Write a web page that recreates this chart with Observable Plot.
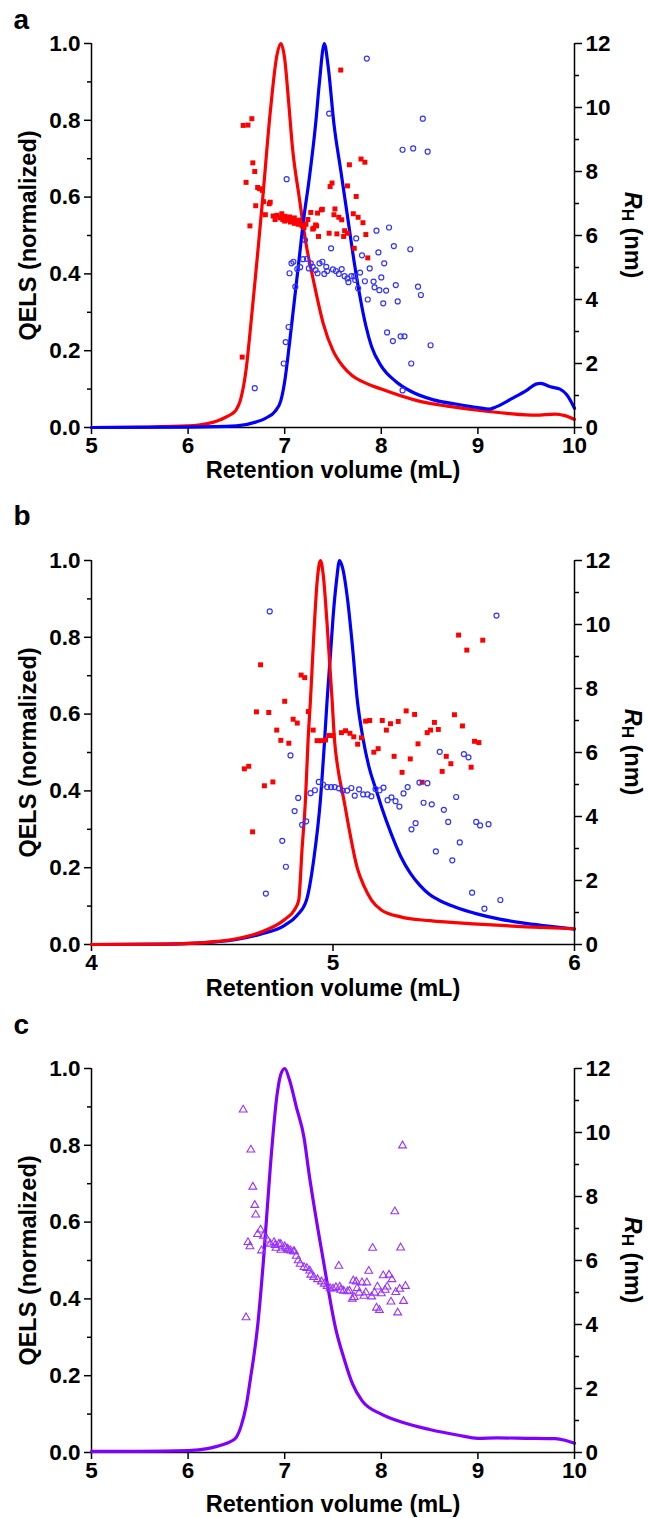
<!DOCTYPE html>
<html><head><meta charset="utf-8">
<script src="https://cdn.jsdelivr.net/npm/d3@7"></script>
<script src="https://cdn.jsdelivr.net/npm/@observablehq/plot@0.6"></script>
<style>
html,body{margin:0;padding:0;background:#fff;overflow:hidden;}
#root{position:relative;width:648px;height:1518px;overflow:hidden;font-family:"Liberation Sans",Arial,sans-serif;}
.panel{position:absolute;left:0;width:648px;}
.panel svg{position:absolute;left:0;top:0;}
</style></head><body><div id="root"></div>
<script>
// ---------- Panel a ----------
const aXTicks = [5, 6, 7, 8, 9, 10];
const aRedLine = [[5,0],[5.5,0.001],[6,0.004],[6.2,0.01],[6.3,0.017],[6.4,0.028],[6.45,0.035],[6.5,0.047],[6.54,0.07],[6.6,0.15],[6.65,0.27],[6.7,0.4],[6.73,0.48],[6.77,0.59],[6.85,0.82],[6.92,0.97],[6.96,1.0],[7.0,0.96],[7.04,0.85],[7.08,0.73],[7.15,0.6],[7.22,0.48],[7.3,0.38],[7.4,0.27],[7.5,0.2],[7.6,0.16],[7.7,0.135],[7.8,0.12],[8.0,0.1],[8.37,0.07],[8.7,0.055],[9.0,0.045],[9.3,0.037],[9.6,0.032],[9.8,0.035],[9.9,0.031],[10,0.021]];
const aBlueLine = [[5,0],[6,0.001],[6.5,0.004],[6.7,0.014],[6.8,0.024],[6.9,0.042],[6.96,0.07],[7.0,0.12],[7.05,0.22],[7.1,0.33],[7.15,0.44],[7.2,0.55],[7.25,0.64],[7.32,0.79],[7.36,0.9],[7.41,1.0],[7.45,0.94],[7.51,0.79],[7.58,0.67],[7.65,0.55],[7.72,0.43],[7.78,0.34],[7.84,0.265],[7.9,0.21],[8.0,0.16],[8.15,0.12],[8.3,0.095],[8.54,0.072],[8.8,0.06],[9.0,0.052],[9.12,0.048],[9.2,0.055],[9.35,0.075],[9.5,0.096],[9.6,0.113],[9.65,0.115],[9.75,0.106],[9.85,0.1],[9.92,0.085],[10,0.05]];
const aRedRh = [[7.58,11.17],[6.57,9.44],[6.62,9.45],[6.66,9.65],[6.67,8.27],[6.69,8.0],[6.60,7.66],[6.72,7.5],[6.74,7.46],[6.77,7.41],[6.78,7.06],[6.70,6.93],[6.84,6.99],[6.85,7.04],[6.64,6.30],[6.80,6.65],[6.88,6.61],[6.92,6.63],[6.97,6.68],[6.56,2.20],[6.95,6.55],[6.98,6.5],[7.0,6.45],[7.02,6.52],[7.04,6.48],[7.06,6.42],[7.08,6.5],[7.1,6.38],[7.12,6.45],[7.14,6.35],[7.16,6.4],[7.18,6.3],[7.2,6.25],[7.22,6.35],[7.0,6.6],[7.05,6.58],[6.9,6.5],[7.1,6.55],[7.15,6.48],[7.24,6.5],[7.47,7.53],[7.49,7.64],[7.67,8.21],[7.79,8.39],[7.83,8.29],[7.65,7.55],[7.74,7.22],[7.27,6.72],[7.34,6.70],[7.38,6.80],[7.39,6.82],[7.52,6.83],[7.51,6.65],[7.56,6.57],[7.59,6.49],[7.71,6.68],[7.76,6.57],[7.81,6.40],[7.32,6.33],[7.30,6.23],[7.46,6.07],[7.54,6.05],[7.62,6.15],[7.65,6.07],[7.84,6.03],[7.35,5.97],[7.61,5.97],[7.72,5.60],[7.86,5.30],[7.33,6.30],[7.29,6.20]];
const aBlueRh = [[7.85,11.53],[7.46,9.81],[7.02,7.76],[8.43,9.65],[8.22,8.68],[8.33,8.72],[8.48,8.62],[7.95,6.15],[8.08,6.25],[7.74,5.91],[8.30,5.57],[8.38,4.40],[8.41,4.14],[8.20,2.85],[8.24,2.85],[8.51,2.57],[8.13,5.67],[7.97,5.47],[7.80,5.38],[8.03,5.13],[7.48,5.60],[7.88,4.97],[8.00,4.69],[7.92,4.56],[7.93,4.38],[7.98,4.29],[8.05,4.28],[8.15,4.45],[7.86,4.00],[8.02,3.88],[8.17,3.94],[8.06,2.97],[8.12,2.70],[8.31,2.00],[8.22,1.16],[7.07,5.13],[7.09,5.18],[7.05,4.82],[7.13,4.95],[7.16,5.01],[7.19,5.26],[7.23,5.27],[7.25,4.97],[7.27,5.13],[7.29,5.02],[7.32,4.92],[7.34,4.82],[7.36,5.13],[7.39,5.18],[7.41,4.80],[7.43,5.02],[7.44,4.89],[7.50,4.94],[7.53,4.89],[7.56,4.80],[7.59,4.95],[7.62,4.73],[7.65,4.66],[7.66,4.54],[7.69,4.73],[7.72,4.73],[7.73,4.61],[7.76,4.35],[7.78,4.84],[7.83,4.57],[7.11,4.40],[7.21,5.86],[7.04,3.14],[7.01,2.67],[6.99,2.00],[6.69,1.23]];

// ---------- Panel b ----------
const bXTicks = [4, 5, 6];
const bRedLine = [[4,0],[4.3,0.001],[4.5,0.007],[4.6,0.015],[4.7,0.032],[4.8,0.065],[4.84,0.09],[4.858,0.115],[4.872,0.25],[4.886,0.377],[4.897,0.534],[4.907,0.64],[4.92,0.8],[4.935,0.95],[4.948,1.0],[4.96,0.96],[4.975,0.84],[4.996,0.64],[5.006,0.534],[5.02,0.46],[5.045,0.377],[5.07,0.29],[5.1,0.2],[5.13,0.15],[5.16,0.115],[5.2,0.09],[5.28,0.072],[5.4,0.062],[5.6,0.053],[5.8,0.046],[6.0,0.041]];
const bBlueLine = [[4,0],[4.3,0.001],[4.5,0.006],[4.6,0.013],[4.7,0.027],[4.8,0.05],[4.85,0.075],[4.89,0.115],[4.92,0.22],[4.948,0.377],[4.965,0.53],[4.976,0.64],[4.99,0.76],[5.0,0.85],[5.015,0.95],[5.027,1.0],[5.04,0.98],[5.06,0.9],[5.08,0.78],[5.1,0.64],[5.125,0.534],[5.15,0.46],[5.18,0.4],[5.2,0.36],[5.24,0.29],[5.28,0.23],[5.32,0.186],[5.36,0.154],[5.4,0.13],[5.45,0.112],[5.5,0.099],[5.6,0.079],[5.69,0.066],[5.8,0.055],[5.9,0.047],[6.0,0.04]];
const bRedRh = [[4.70,8.74],[4.868,8.42],[4.883,8.34],[4.80,7.60],[4.683,7.27],[4.734,7.25],[4.835,7.04],[4.852,6.92],[4.767,6.70],[4.898,7.28],[4.918,6.70],[5.135,6.98],[5.152,7.0],[5.204,7.0],[5.238,6.90],[5.27,6.97],[5.303,7.30],[5.338,7.19],[4.983,6.53],[5.0,6.53],[5.035,6.62],[5.052,6.68],[5.07,6.60],[5.086,6.49],[5.118,6.46],[5.39,6.62],[5.52,9.67],[5.554,9.20],[5.62,9.51],[5.503,7.18],[5.536,6.83],[5.42,6.94],[5.404,6.70],[5.436,6.72],[4.784,6.38],[4.817,6.29],[4.934,6.37],[4.952,6.37],[4.969,6.39],[5.102,6.26],[5.169,6.01],[5.187,6.12],[5.221,6.70],[5.253,5.88],[5.286,5.38],[5.32,5.80],[5.352,6.27],[4.633,5.49],[4.651,5.57],[4.716,4.96],[4.751,5.08],[4.667,3.52],[5.369,5.07],[5.469,5.88],[5.488,5.65],[5.452,5.41],[5.586,6.35],[5.604,6.31],[5.572,5.54]];
const bBlueRh = [[4.738,10.41],[5.677,10.28],[4.824,5.91],[4.856,4.58],[4.841,4.17],[4.872,3.74],[4.889,3.85],[4.79,3.24],[4.805,2.43],[4.722,1.59],[4.907,4.73],[4.925,4.82],[4.941,5.08],[4.959,5.00],[4.976,4.92],[4.992,4.92],[5.007,4.92],[5.024,4.88],[5.04,4.81],[5.059,4.81],[5.076,4.89],[5.09,4.65],[5.108,4.85],[5.125,4.69],[5.143,4.69],[5.159,4.63],[5.176,4.86],[5.193,4.82],[5.209,4.90],[5.226,4.51],[5.242,4.60],[5.259,4.48],[5.275,4.31],[5.292,4.72],[5.309,4.92],[5.325,3.60],[5.342,3.79],[5.358,5.06],[5.375,4.43],[5.391,5.04],[5.442,6.02],[5.542,5.95],[5.561,5.85],[5.51,4.61],[5.409,4.38],[5.459,4.21],[5.477,3.83],[5.593,3.83],[5.609,3.72],[5.644,3.76],[5.525,3.19],[5.426,2.91],[5.494,2.63],[5.576,1.62],[5.693,1.39],[5.627,1.12]];

// ---------- Panel c ----------
const cXTicks = [5, 6, 7, 8, 9, 10];
const cPurpleLine = [[5,0.003],[5.5,0.003],[6,0.005],[6.2,0.01],[6.3,0.016],[6.4,0.024],[6.45,0.03],[6.5,0.04],[6.55,0.07],[6.6,0.12],[6.65,0.2],[6.68,0.25],[6.72,0.33],[6.78,0.5],[6.85,0.74],[6.92,0.93],[6.96,0.985],[7.0,1.0],[7.05,0.97],[7.12,0.9],[7.2,0.82],[7.25,0.73],[7.4,0.5],[7.53,0.32],[7.62,0.24],[7.7,0.18],[7.8,0.135],[8.0,0.1],[8.2,0.08],[8.5,0.06],[8.8,0.045],[9.0,0.037],[9.2,0.038],[9.5,0.037],[9.8,0.036],[9.9,0.032],[10,0.024]];
const cPurpleRh = [[6.57,10.71],[6.65,9.46],[6.67,8.30],[6.69,7.73],[6.70,7.43],[8.22,9.59],[8.14,7.53],[7.91,6.39],[8.20,6.40],[6.75,6.96],[6.72,6.82],[6.78,6.77],[6.62,6.57],[6.64,6.44],[6.76,6.31],[6.60,4.22],[7.56,5.83],[7.87,5.67],[6.82,6.65],[6.85,6.52],[6.90,6.48],[6.94,6.52],[6.96,6.51],[7.00,6.44],[7.03,6.36],[7.06,6.31],[7.09,6.28],[6.89,6.57],[6.91,6.39],[6.96,6.33],[7.01,6.39],[7.04,6.33],[7.10,6.28],[7.12,6.14],[7.14,6.00],[7.16,5.89],[7.20,5.79],[7.23,5.76],[7.26,5.68],[7.27,5.55],[7.30,5.48],[7.34,5.41],[7.38,5.34],[7.41,5.27],[7.44,5.20],[7.47,5.13],[7.50,5.12],[7.53,5.16],[7.57,5.18],[7.58,5.08],[7.61,5.05],[7.65,5.03],[7.67,5.05],[7.71,5.37],[7.74,5.34],[7.80,5.31],[7.85,5.31],[7.75,5.13],[7.77,4.99],[7.72,4.85],[7.70,4.80],[7.82,4.89],[7.84,5.00],[7.90,4.87],[7.93,4.99],[7.96,5.18],[8.00,4.97],[8.02,5.53],[8.04,5.08],[8.06,5.18],[8.08,5.55],[8.11,5.41],[8.15,5.01],[8.19,5.11],[8.25,5.20],[8.23,4.73],[8.10,4.71],[7.95,4.52],[7.98,4.45],[8.17,4.37]];

// ---------- labels ----------
const xTitle = "Retention volume (mL)";
const yLeftTitle = "QELS (normalized)";
const yLeftTicks = [0, 0.2, 0.4, 0.6, 0.8, 1.0];
const yLeftMinor = [0.1, 0.3, 0.5, 0.7, 0.9];
const yRightTicks = [0, 2, 4, 6, 8, 10, 12];
const yRightMinor = [1, 3, 5, 7, 9, 11];

const FONT = '"Liberation Sans", Arial, sans-serif';
const W = 648, ML = 91, MR = 74, MT = 60, PH = 384, MB = 84;
const H = MT + PH + MB;
const TICKFS = 22.5, TITLEFS = 23.5;

function panel({plotTop, letter, letterDy, titleDy, xDomain, xTicks, lines, dots}) {
  const root = document.getElementById("root");
  const div = document.createElement("div");
  div.className = "panel";
  div.style.top = (plotTop - MT) + "px";
  div.style.height = H + "px";
  root.appendChild(div);
  const style = {fontFamily: FONT, fontSize: TICKFS + "px", fontWeight: "bold", color: "black", background: "transparent", overflow: "visible"};
  const main = Plot.plot({
    width: W, height: H, marginLeft: ML, marginRight: MR, marginTop: MT, marginBottom: MB,
    style,
    x: {domain: xDomain},
    y: {domain: [0, 1]},
    marks: [
      Plot.axisY({ticks: yLeftTicks, tickFormat: d3.format(".1f"), tickSize: 7, tickPadding: 4, strokeWidth: 1.5, label: null, fontSize: TICKFS, fontWeight: "bold"}),
      Plot.axisY({ticks: yLeftMinor, tickFormat: () => "", tickSize: 4, strokeWidth: 1.5, label: null}),
      Plot.axisX({ticks: xTicks, tickFormat: d => String(d), tickSize: 7, tickPadding: 3, strokeWidth: 1.5, label: null, fontSize: TICKFS, fontWeight: "bold"}),
      Plot.ruleX([xDomain[0]], {stroke: "black", strokeWidth: 1.5}),
      Plot.ruleY([0], {stroke: "black", strokeWidth: 1.5}),
      ...lines.map(l => Plot.line(l.data, {x: d => d[0], y: d => d[1], stroke: l.color, strokeWidth: 3.2, curve: "monotone-x"})),
      Plot.text([xTitle], {text: d => d, frameAnchor: "bottom", dy: titleDy, textAnchor: "middle", lineAnchor: "middle", fontSize: TITLEFS, fontWeight: "bold"}),
      Plot.text([yLeftTitle], {text: d => d, frameAnchor: "left", dx: -63, rotate: -90, textAnchor: "middle", lineAnchor: "middle", fontSize: TITLEFS, fontWeight: "bold"}),
      Plot.text([letter], {text: d => d, frameAnchor: "top-left", dx: -78, dy: letterDy, textAnchor: "start", lineAnchor: "middle", fontSize: 28, fontWeight: "bold"})
    ]
  });
  const over = Plot.plot({
    width: W, height: H, marginLeft: ML, marginRight: MR, marginTop: MT, marginBottom: MB,
    style,
    x: {domain: xDomain, axis: null},
    y: {domain: [0, 12]},
    marks: [
      Plot.axisY({anchor: "right", ticks: yRightTicks, tickFormat: d => String(d), tickSize: 7, tickPadding: 4, strokeWidth: 1.5, label: null, fontSize: TICKFS, fontWeight: "bold"}),
      Plot.axisY({anchor: "right", ticks: yRightMinor, tickFormat: () => "", tickSize: 4, strokeWidth: 1.5, label: null}),
      Plot.ruleX([xDomain[1]], {stroke: "black", strokeWidth: 1.5}),
      ...dots.map(s => Plot.dot(s.data, {x: d => d[0], y: d => d[1], symbol: s.symbol, r: s.r, fill: s.fill, stroke: s.stroke, strokeWidth: s.sw}))
    ]
  });
  div.appendChild(main);
  div.appendChild(over);
  const t = d3.select(over).append("text")
    .attr("transform", `translate(${W - MR + 57},${MT + PH / 2}) rotate(90)`)
    .attr("text-anchor", "middle").attr("dominant-baseline", "middle")
    .attr("font-family", FONT).attr("font-size", TITLEFS).attr("font-weight", "bold").attr("fill", "black");
  t.append("tspan").attr("font-style", "italic").text("R");
  t.append("tspan").attr("font-size", 17).attr("dy", 5).text("H");
  t.append("tspan").attr("dy", -5).text(" (nm)");
}

panel({plotTop: 43, letter: "a", letterDy: -23, titleDy: 43, xDomain: [5, 10], xTicks: aXTicks,
  lines: [{data: aRedLine, color: "#ff0000"}, {data: aBlueLine, color: "#0000ff"}],
  dots: [
    {data: aRedRh, symbol: "square", r: 2.8, fill: "#ff0000", stroke: "none", sw: 0},
    {data: aBlueRh, symbol: "circle", r: 2.5, fill: "none", stroke: "#3333ff", sw: 1.2}
  ]});
panel({plotTop: 560, letter: "b", letterDy: -44, titleDy: 44, xDomain: [4, 6], xTicks: bXTicks,
  lines: [{data: bBlueLine, color: "#0000ff"}, {data: bRedLine, color: "#ff0000"}],
  dots: [
    {data: bRedRh, symbol: "square", r: 2.8, fill: "#ff0000", stroke: "none", sw: 0},
    {data: bBlueRh, symbol: "circle", r: 2.5, fill: "none", stroke: "#3333ff", sw: 1.2}
  ]});
panel({plotTop: 1068, letter: "c", letterDy: -43, titleDy: 52, xDomain: [5, 10], xTicks: cXTicks,
  lines: [{data: cPurpleLine, color: "#8000ff"}],
  dots: [
    {data: cPurpleRh, symbol: "triangle", r: 2.9, fill: "none", stroke: "#9933ff", sw: 1.1}
  ]});
</script>
</body></html>
